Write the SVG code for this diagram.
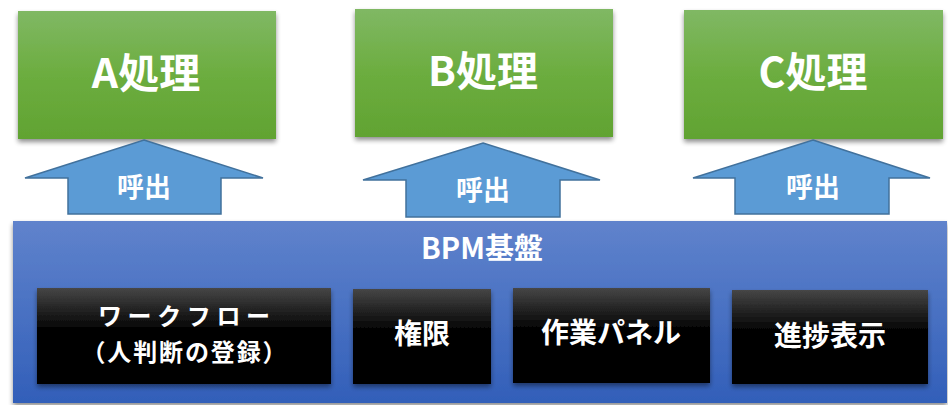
<svg xmlns="http://www.w3.org/2000/svg" width="948" height="405" viewBox="0 0 948 405">
<defs>
<linearGradient id="gGreen" x1="0" y1="0" x2="0" y2="1">
<stop offset="0" stop-color="#80b864"/>
<stop offset="0.5" stop-color="#6cad3f"/>
<stop offset="1" stop-color="#61a332"/>
</linearGradient>
<linearGradient id="gBlue" x1="0" y1="0" x2="0" y2="1">
<stop offset="0" stop-color="#6083cc"/>
<stop offset="1" stop-color="#325fb9"/>
</linearGradient>
<linearGradient id="gBlack" x1="0" y1="0" x2="0" y2="1">
<stop offset="0" stop-color="#464646"/>
<stop offset="0.45" stop-color="#000000"/>
<stop offset="1" stop-color="#000000"/>
</linearGradient>
<filter id="sh" x="-10%" y="-10%" width="120%" height="130%">
<feGaussianBlur in="SourceAlpha" stdDeviation="2.5"/>
<feOffset dx="0" dy="3" result="b"/>
<feComponentTransfer><feFuncA type="linear" slope="0.45"/></feComponentTransfer>
<feMerge><feMergeNode/><feMergeNode in="SourceGraphic"/></feMerge>
</filter>
</defs>
<style>
text{font-family:"Noto Sans CJK JP","Noto Sans",sans-serif;font-weight:bold;fill:#ffffff;text-anchor:middle;dominant-baseline:central}
.green{fill:url(#gGreen)}
.blk{fill:url(#gBlack)}
.arr{fill:#5b9bd5;stroke:#41719c;stroke-width:1.5}
.big{font-size:41px}
.mid{font-size:28px}
.wf{font-size:24px}
.call{font-size:27px}
.bpm{font-size:29px}
</style>
<rect width="948" height="405" fill="#ffffff"/>
<g id="bpm">
<rect x="13" y="221" width="934" height="182" fill="url(#gBlue)" filter="url(#sh)"/>
<text x="482" y="246" class="bpm">BPM基盤</text>
</g>
<g id="workflow">
<rect x="37" y="288" width="294" height="96" class="blk" filter="url(#sh)"/>
<text x="184" y="314.5" class="wf" textLength="172" lengthAdjust="spacing">ワークフロー</text>
<text x="184" y="350.5" class="wf" textLength="205" lengthAdjust="spacing">（人判断の登録）</text>
</g>
<g id="kengen">
<rect x="353" y="289" width="138" height="95" class="blk" filter="url(#sh)"/>
<text x="422" y="332" class="mid">権限</text>
</g>
<g id="panel">
<rect x="513" y="288" width="197" height="95" class="blk" filter="url(#sh)"/>
<text x="611" y="331" class="mid">作業パネル</text>
</g>
<g id="progress">
<rect x="732" y="290" width="196" height="94" class="blk" filter="url(#sh)"/>
<text x="830" y="334" class="mid">進捗表示</text>
</g>
<g id="procA">
<rect x="18" y="11" width="258" height="128" class="green" filter="url(#sh)"/>
<text x="146" y="70" class="big">A処理</text>
</g>
<g id="procB">
<rect x="355" y="9" width="258" height="128" class="green" filter="url(#sh)"/>
<text x="483" y="68" class="big">B処理</text>
</g>
<g id="procC">
<rect x="684" y="10" width="259" height="129" class="green" filter="url(#sh)"/>
<text x="813" y="69" class="big">C処理</text>
</g>
<g id="connectors">
<g id="callA">
<polygon class="arr" points="144,140 263,178 221,178 221,214 68,214 68,178 25,178"/>
<text x="144" y="185" class="call">呼出</text>
</g>
<g id="callB">
<polygon class="arr" points="483,143 600,180 560,180 560,217 406,217 406,180 363,180"/>
<text x="483" y="188" class="call">呼出</text>
</g>
<g id="callC">
<polygon class="arr" points="813,140 930,178 889,178 889,214 735,214 735,178 693,178"/>
<text x="813" y="185" class="call">呼出</text>
</g>
</g>
</svg>
